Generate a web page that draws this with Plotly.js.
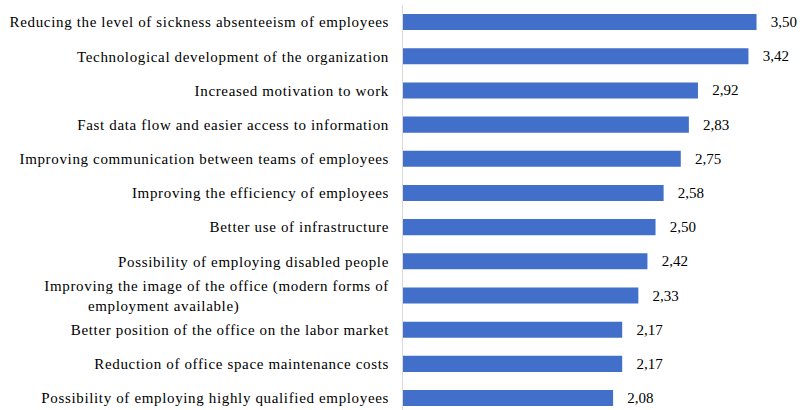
<!DOCTYPE html>
<html>
<head>
<meta charset="utf-8">
<script src="https://cdn.plot.ly/plotly-3.0.1.min.js"></script>
<style>
html,body{margin:0;padding:0;background:#fff;}
#chart .ytick text{letter-spacing:0.65px;}
</style>
</head>
<body>
<div id="chart" style="width:803px;height:410px;"></div>
<script>
// Categories listed bottom-to-top
const categories = [
  "Possibility of employing highly qualified employees",
  "Reduction of office space maintenance costs",
  "Better position of the office on the labor market",
  "Improving the image of the office (modern forms of<br>employment available)" + "\u00A0".repeat(34),
  "Possibility of employing disabled people",
  "Better use of infrastructure",
  "Improving the efficiency of employees",
  "Improving communication between teams of employees",
  "Fast data flow and easier access to information",
  "Increased motivation to work",
  "Technological development of the organization",
  "Reducing the level of sickness absenteeism of employees"
];
const values = [2.08, 2.17, 2.17, 2.33, 2.42, 2.50, 2.58, 2.75, 2.83, 2.92, 3.42, 3.50];

const SERIF = '"Liberation Serif"';

const trace = {
  type: 'bar',
  orientation: 'h',
  y: categories,
  x: values,
  marker: {color: '#416FCA', line: {width: 0}},
  texttemplate: '   %{x:.2f}',
  textposition: 'outside',
  cliponaxis: false,
  textfont: {family: SERIF, size: 15, color: '#000'},
  hoverinfo: 'none'
};

const layout = {
  width: 803, height: 410,
  margin: {l: 403, r: 0, t: 5, b: 0},
  separators: ', ',
  paper_bgcolor: '#fff', plot_bgcolor: '#fff',
  showlegend: false,
  bargap: 0.53,
  xaxis: {range: [0, 3.96], visible: false, fixedrange: true},
  yaxis: {
    type: 'category',
    range: [-0.35, 11.5],
    showline: true, linecolor: '#d9d9d9', linewidth: 1,
    ticks: '', showgrid: false, zeroline: false,
    ticklabelstandoff: 10,
    tickfont: {family: SERIF, size: 15, color: '#000'}
  },
  font: {family: SERIF}
};

Plotly.newPlot('chart', [trace], layout, {displayModeBar: false, staticPlot: true});
</script>
</body>
</html>
